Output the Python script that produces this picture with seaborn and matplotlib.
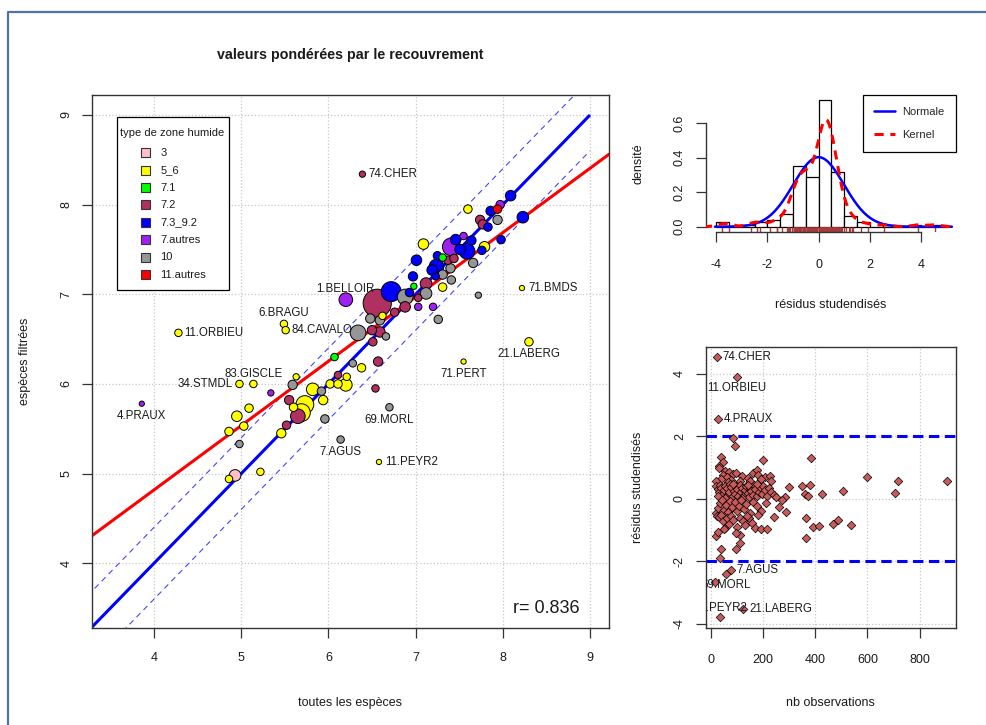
import numpy as np
import pandas as pd
import matplotlib
matplotlib.use("Agg")
import matplotlib.pyplot as plt
import seaborn as sns
from matplotlib.lines import Line2D
from matplotlib.patches import Rectangle

sns.set_theme(style="ticks")
plt.rcParams["font.family"] = ["Liberation Sans", "DejaVu Sans"]
plt.rcParams["axes.unicode_minus"] = False

# ---------------- data: main scatter ----------------
toutes = [6.39, 8.09, 7.60, 7.97, 7.94, 7.86, 7.74, 7.77, 7.94, 7.83, 8.23, 7.98, 7.09, 7.41, 7.46,
          7.55, 7.64, 7.59, 7.51, 7.79, 7.76, 7.01, 7.25, 7.31, 7.37, 7.44, 7.24, 7.19, 7.40, 7.66,
          6.97, 7.23, 7.31, 7.41, 7.31, 7.72, 7.26, 7.03, 7.20, 8.22, 8.30, 7.55, 6.57, 6.54, 6.56,
          6.72, 6.88, 7.12, 6.88, 7.12, 6.20, 6.48, 6.59, 6.62, 6.34, 6.50, 6.59, 6.07, 6.38, 6.28,
          4.28, 5.49, 5.51, 5.14, 4.98, 3.86, 5.63, 5.34, 5.59, 5.55, 5.82, 5.09, 4.95, 5.03, 4.86,
          4.98, 5.46, 5.52, 5.73, 5.69, 5.65, 5.60, 5.96, 5.94, 5.92, 6.02, 6.11, 6.20, 6.11, 6.21,
          4.93, 4.86, 5.22, 6.14, 6.58, 6.70, 6.66, 6.51, 6.76, 6.93, 7.03, 6.98]
filtrees = [8.34, 8.10, 7.95, 8.00, 7.95, 7.93, 7.83, 7.78, 7.83, 7.75, 7.86, 7.61, 7.56, 7.53, 7.61,
            7.65, 7.60, 7.48, 7.50, 7.53, 7.49, 7.38, 7.43, 7.41, 7.38, 7.40, 7.31, 7.27, 7.29, 7.35,
            7.20, 7.20, 7.22, 7.16, 7.08, 6.99, 6.72, 6.86, 6.86, 7.07, 6.47, 6.25, 6.25, 5.95, 6.90,
            7.03, 6.97, 7.12, 6.86, 7.01, 6.94, 6.73, 6.71, 6.76, 6.57, 6.60, 6.58, 6.30, 6.18, 6.23,
            6.57, 6.67, 6.60, 6.00, 6.00, 5.78, 6.08, 5.90, 5.99, 5.82, 5.94, 5.73, 5.64, 5.53, 5.47,
            5.33, 5.45, 5.54, 5.77, 5.68, 5.64, 5.74, 5.61, 5.82, 5.92, 6.00, 6.00, 5.99, 6.10, 6.08,
            4.98, 4.94, 5.02, 5.38, 5.13, 5.74, 6.53, 6.47, 6.80, 7.02, 6.96, 7.09]
poids = [1.0, 2.8, 1.8, 1.8, 1.8, 2.2, 2.2, 2.2, 2.2, 1.8, 3.4, 1.8, 2.8, 8.0, 2.8,
         1.4, 2.2, 6.2, 2.8, 2.8, 1.8, 2.8, 1.8, 1.4, 1.8, 1.8, 5.4, 2.8, 2.2, 2.2,
         2.2, 1.4, 2.2, 1.8, 1.8, 1.0, 1.8, 1.4, 1.4, 0.7, 1.8, 0.7, 2.2, 1.4, 20.0,
         10.0, 6.2, 3.4, 2.8, 3.4, 4.7, 2.2, 2.2, 1.4, 6.2, 2.2, 2.8, 1.4, 1.8, 1.4,
         1.4, 1.4, 1.4, 1.4, 1.4, 0.7, 1.0, 1.0, 2.2, 2.2, 4.0, 1.8, 2.8, 1.8, 1.8,
         1.4, 2.2, 1.8, 8.0, 8.0, 5.4, 1.8, 1.8, 2.2, 1.8, 1.8, 1.8, 4.0, 1.4, 1.4,
         3.4, 1.4, 1.4, 1.4, 0.7, 1.4, 1.4, 1.8, 1.8, 1.8, 1.4, 1.0]
zone = ["7.2", "7.3_9.2", "5_6", "7.autres", "11.autres", "7.3_9.2", "7.2", "7.2", "10", "7.3_9.2",
        "7.3_9.2", "7.3_9.2", "5_6", "7.autres", "7.3_9.2", "7.autres", "7.3_9.2", "7.3_9.2", "7.3_9.2", "5_6",
        "7.3_9.2", "7.3_9.2", "7.3_9.2", "7.1", "7.2", "7.2", "7.3_9.2", "7.3_9.2", "10", "10",
        "7.3_9.2", "7.3_9.2", "10", "10", "5_6", "10", "10", "7.autres", "7.autres", "5_6",
        "5_6", "5_6", "7.2", "7.2", "7.2", "7.3_9.2", "10", "7.2", "7.2", "10",
        "7.autres", "10", "10", "5_6", "10", "7.2", "7.2", "7.1", "5_6", "10",
        "5_6", "5_6", "5_6", "5_6", "5_6", "7.autres", "5_6", "7.autres", "10", "7.2",
        "5_6", "5_6", "5_6", "5_6", "5_6", "10", "5_6", "7.2", "5_6", "5_6",
        "7.2", "5_6", "10", "5_6", "10", "5_6", "5_6", "5_6", "7.2", "5_6",
        "3", "5_6", "5_6", "10", "5_6", "10", "10", "7.2", "7.2", "7.3_9.2", "7.2", "7.1"]
noms = {0: "74.CHER", 39: "71.BMDS", 40: "21.LABERG", 41: "71.PERT", 50: "1.BELLOIR",
        60: "11.ORBIEU", 61: "6.BRAGU", 62: "84.CAVALO", 63: "83.GISCLE", 64: "34.STMDL",
        65: "4.PRAUX", 93: "7.AGUS", 94: "11.PEYR2", 95: "69.MORL"}
pos_noms = {"74.CHER": "r", "71.BMDS": "r", "21.LABERG": "d", "71.PERT": "d", "1.BELLOIR": "u",
            "11.ORBIEU": "r", "6.BRAGU": "u", "84.CAVALO": "r", "83.GISCLE": "u", "34.STMDL": "l",
            "4.PRAUX": "d", "7.AGUS": "d", "11.PEYR2": "r", "69.MORL": "d"}

categories = ["3", "5_6", "7.1", "7.2", "7.3_9.2", "7.autres", "10", "11.autres"]
couleurs = ["#FFC0CB", "#FFFF00", "#00FF00", "#B03060", "#0000FF", "#A020F0", "#969696", "#FF0000"]

bande = 0.4
etendue_1_1 = [3.0, 9.0]
reg_ordonnee = 1.948
reg_pente = 0.7175
r_valeur = 0.836

# ---------------- data: residuals ----------------
nb_obs = [22, 100, 26, 83, 92,
          37, 47, 199, 382, 32,
          30, 55, 70, 85, 45, 60, 95, 120, 160, 175, 180, 205, 225, 40, 75, 110, 140, 190, 20, 65,
          150, 230, 599, 718, 904,
          18, 25, 30, 35, 40, 45, 50, 55, 60, 62, 68, 72, 78, 82, 88, 92, 96, 100, 105, 110,
          115, 120, 125, 130, 135, 140, 145, 150, 155, 160, 165, 170, 175, 182, 188, 195, 200, 208,
          215, 222, 230, 240, 250, 28, 52, 85, 118, 142, 178, 300, 350, 360, 372, 378, 426, 506,
          704, 282,
          20, 28, 35, 42, 50, 58, 65, 72, 80, 90, 98, 108, 115, 125, 135, 148, 160, 175, 190, 210,
          272, 262, 287,
          22, 30, 38, 45, 52, 48, 60, 68, 75, 112, 122, 130, 146, 156, 169, 192, 214, 240, 100, 85,
          364, 392, 415, 467, 487, 536, 138, 180,
          19, 112, 112, 364, 28, 95,
          95, 38, 35,
          76, 56, 15,
          124, 35]
residus = [4.53, 3.88, 2.55, 1.93, 1.67,
           1.33, 1.17, 1.24, 1.30, 1.05,
           0.97, 0.88, 0.85, 0.78, 0.75, 0.70, 0.83, 0.72, 0.82, 0.92, 0.75, 0.70, 0.72, 0.62, 0.60,
           0.55, 0.65, 0.62, 0.55, 0.52, 0.58, 0.55, 0.68, 0.58, 0.58,
           0.40, 0.30, 0.22, 0.45, 0.35, 0.15, 0.28, 0.42, 0.10, 0.33, 0.20, 0.47, 0.38, 0.05, 0.25,
           0.15, 0.40, 0.30, 0.08, 0.45, 0.22, 0.35, 0.12, 0.28, 0.40, 0.18, 0.05, 0.33, 0.25, 0.12,
           0.45, 0.30, 0.08, 0.20, 0.38, 0.15, 0.42, 0.28, 0.10, 0.35, 0.22, 0.12, 0.05, 0.08, 0.02,
           0.48, 0.02, 0.45, 0.48, 0.38, 0.40, 0.15, 0.10, 0.45, 0.14, 0.24, 0.17, 0.05,
           -0.45, -0.30, -0.15, -0.05, -0.35, -0.20, -0.42, -0.08, -0.28, -0.12, -0.38, -0.22, -0.05,
           -0.32, -0.18, -0.45, -0.10, -0.25, -0.40, -0.15, -0.05, -0.28, -0.44,
           -0.55, -0.60, -0.52, -0.70, -0.95, -0.98, -0.62, -0.80, -0.55, -0.62, -0.72, -0.85, -0.63,
           -0.77, -0.94, -0.98, -0.96, -0.58, -0.90, -0.68, -0.61, -0.90, -0.88, -0.81, -0.68, -0.84,
           -0.55, -0.52,
           -1.19, -1.17, -1.43, -1.25, -1.05, -1.10,
           -1.61, -1.61, -1.89,
           -2.29, -2.40, -2.66,
           -3.52, -3.79]
noms_resid = {0: ("74.CHER", "r"), 1: ("11.ORBIEU", "d"), 2: ("4.PRAUX", "r"),
              -5: ("7.AGUS", "r"), -4: ("69.MORL", "d"), -2: ("21.LABERG", "r"), -1: ("11.PEYR2", "u")}
seuils = [-2, 2]

# ---------------- figure ----------------
W, H = 987, 725
fig = plt.figure(figsize=(W / 100, H / 100), dpi=100)

def box(l, t, r, b):
    return [l / W, 1 - b / H, (r - l) / W, (b - t) / H]

txt_col = "#1a1a1a"
spine_col = "#333333"

# outer frame
fig.add_artist(Line2D([8 / W, 8 / W, 1.0], [0.0, 1 - 12 / H, 1 - 12 / H],
                      transform=fig.transFigure, color="#4F72A8", lw=1.6))

# ---- main axes ----
ax = fig.add_axes(box(92, 95, 609, 628))
df = pd.DataFrame({"toutes": toutes, "filtrees": filtrees, "poids": poids, "zone": zone})
df = df.sort_values("poids", ascending=False, kind="stable")
k = (0.72 * 6.3) ** 2

xl = np.array(etendue_1_1)
ax.plot(xl, xl, color="#0000FF", lw=2.2, zorder=2, solid_capstyle="butt")
ax.plot(xl, xl + bande, color="#4444FF", lw=0.8, ls=(0, (5, 4)), zorder=2)
ax.plot(xl, xl - bande, color="#4444FF", lw=0.8, ls=(0, (5, 4)), zorder=2)
ax.axline((0, reg_ordonnee), slope=reg_pente, color="#FF0000", lw=2.2, zorder=2)

sns.scatterplot(data=df, x="toutes", y="filtrees", hue="zone", hue_order=categories,
                palette=dict(zip(categories, couleurs)), size="poids",
                sizes=(min(poids) * k, max(poids) * k), size_norm=(min(poids), max(poids)),
                edgecolor="black", linewidth=0.7, alpha=1, legend=False, ax=ax, zorder=3)

for i, nm in noms.items():
    p = pos_noms[nm]
    off, ha = {"r": ((4.5, 0), "left"), "l": ((-4.5, 0), "right"),
               "d": ((0, -9), "center"), "u": ((0, 7.5), "center")}[p]
    ax.annotate(nm, (toutes[i], filtrees[i]), xytext=off, textcoords="offset points",
                ha=ha, va="center", fontsize=8.3, color=txt_col, zorder=4)

ax.text(8.50, 3.49, f"r= {r_valeur}", ha="center", va="center", fontsize=13, color=txt_col)

ax.set_xlim(3.289, 9.218)
ax.set_ylim(3.278, 9.223)
ax.set_xticks([4, 5, 6, 7, 8, 9])
ax.set_yticks([4, 5, 6, 7, 8, 9])
ax.grid(True, ls=":", color="#C8C8C8", lw=0.9)
ax.set_axisbelow(True)
for s in ax.spines.values():
    s.set_color(spine_col)
    s.set_linewidth(1.0)
ax.tick_params(axis="both", direction="out", length=7.2, width=0.9, color=spine_col,
               labelsize=9, labelcolor=txt_col)
ax.tick_params(axis="x", pad=10)
ax.tick_params(axis="y", pad=7, labelrotation=90)
for lab in ax.get_yticklabels():
    lab.set_va("center")
ax.set_xlabel("toutes les espèces", fontsize=9, color=txt_col)
ax.set_ylabel("espèces filtrées", fontsize=9, color=txt_col)
ax.xaxis.label.set_va("center")
ax.yaxis.label.set_va("center")
ax.xaxis.set_label_coords(0.5, (628 - 703) / 533)
ax.yaxis.set_label_coords((25 - 92) / 517, 0.5)

# manual legend
def axf(px, py):
    return ((px - 92) / 517, (628 - py) / 533)

lx0, ly0 = axf(117, 290)
lx1, ly1 = axf(229, 117)
ax.add_patch(Rectangle((lx0, ly0), lx1 - lx0, ly1 - ly0, transform=ax.transAxes,
                       facecolor="white", edgecolor="black", lw=0.9, zorder=5))
tx, ty = axf(172, 132.5)
ax.text(tx, ty, "type de zone humide", transform=ax.transAxes, ha="center", va="center",
        fontsize=8, color=txt_col, zorder=6)
for j, (cat, col) in enumerate(zip(categories, couleurs)):
    py = 152.7 + 17.43 * j
    sx, sy = axf(141.2, py + 4.5)
    ax.add_patch(Rectangle((sx, sy), 9 / 517, 9 / 533, transform=ax.transAxes,
                           facecolor=col, edgecolor="#333333", lw=0.8, zorder=6))
    lx, lyy = axf(160.5, py)
    ax.text(lx, lyy, cat, transform=ax.transAxes, ha="left", va="center",
            fontsize=8, color=txt_col, zorder=6)

fig.text(350 / W, 1 - 55 / H, "valeurs pondérées par le recouvrement", ha="center",
         va="center", fontsize=10.3, fontweight="bold", color=txt_col)

# ---- histogram axes ----
axh = fig.add_axes(box(705.7, 95, 956, 232.3))
res = np.array(residus)
sns.histplot(x=res, stat="density", bins=np.arange(-4.0, 5.5, 0.5), color="white",
             edgecolor="black", linewidth=0.9, alpha=1, ax=axh, zorder=1)
sns.rugplot(x=res, height=0.042, color="#A83A3A", lw=0.8, ax=axh, zorder=2)
m, sd = res.mean(), res.std(ddof=1)
xs = np.linspace(-4.05, 5.2, 400)
axh.plot(xs, np.exp(-0.5 * ((xs - m) / sd) ** 2) / (sd * np.sqrt(2 * np.pi)),
         color="#0000FF", lw=1.8, zorder=3)
q75, q25 = np.percentile(res, [75, 25])
bw = 0.9 * min(sd, (q75 - q25) / 1.34) * len(res) ** -0.2
sns.kdeplot(x=res, bw_method=bw / sd, cut=3, gridsize=512, color="#FF0000", lw=2.2,
            ls=(0, (3, 2.2)), ax=axh, zorder=4)
axh.set_xlim(-4.41, 5.36)
axh.set_ylim(-0.0325, 0.764)
axh.set_xticks([-4, -2, 0, 2, 4])
axh.set_yticks([0.0, 0.2, 0.4, 0.6])
axh.set_yticklabels(["0.0", "0.2", "0.4", "0.6"])
axh.spines["top"].set_visible(False)
axh.spines["right"].set_visible(False)
axh.spines["left"].set_bounds(0, 0.6)
axh.spines["bottom"].set_bounds(-4, 4)
for s in ("left", "bottom"):
    axh.spines[s].set_color(spine_col)
    axh.spines[s].set_linewidth(1.0)
axh.tick_params(axis="both", direction="out", length=7.2, width=0.9, color=spine_col,
                labelsize=9, labelcolor=txt_col)
axh.tick_params(axis="x", pad=12)
axh.tick_params(axis="y", pad=7, labelrotation=90)
for lab in axh.get_yticklabels():
    lab.set_va("center")
axh.set_xlabel("résidus studendisés", fontsize=9, color=txt_col)
axh.set_ylabel("densité", fontsize=9, color=txt_col)
axh.xaxis.label.set_va("center")
axh.yaxis.label.set_va("center")
axh.xaxis.set_label_coords(0.5, (232.3 - 305) / 137.3)
axh.yaxis.set_label_coords((638 - 705.7) / 250.3, 0.5)
handles = [Line2D([], [], color="#0000FF", lw=1.8),
           Line2D([], [], color="#FF0000", lw=2.2, ls=(0, (3, 2.2)))]
leg = axh.legend(handles, ["Normale", "Kernel"], loc="upper right", bbox_to_anchor=(1, 1),
                 borderaxespad=0, fancybox=False, edgecolor="black", framealpha=1,
                 fontsize=8, handlelength=1.9, handletextpad=0.6, borderpad=1.05,
                 labelspacing=1.2)
leg.get_frame().set_linewidth(0.9)

# ---- residual axes ----
axr = fig.add_axes(box(705.7, 346.7, 956, 627.5))
axr.axhline(seuils[0], color="#0000FF", lw=2.2, ls=(0, (3.4, 1.8)), zorder=2)
axr.axhline(seuils[1], color="#0000FF", lw=2.2, ls=(0, (3.4, 1.8)), zorder=2)
sns.scatterplot(x=nb_obs, y=residus, marker="D", s=19, color="#C85A5A", edgecolor="black",
                linewidth=0.5, ax=axr, zorder=3)
for i, (nm, p) in noms_resid.items():
    off, ha = {"r": ((4, 0), "left"), "d": ((0, -8), "center"),
               "u": ((0, 6.5), "center")}[p]
    t = axr.annotate(nm, (nb_obs[i], residus[i]), xytext=off, textcoords="offset points",
                     ha=ha, va="center", fontsize=8.3, color=txt_col, zorder=4)
    t.set_clip_on(True)
    t.set_clip_path(axr.patch)
axr.set_xlim(-20.6, 939.6)
axr.set_ylim(-4.12, 4.86)
axr.set_xticks([0, 200, 400, 600, 800])
axr.set_yticks([-4, -2, 0, 2, 4])
axr.grid(True, ls=":", color="#C8C8C8", lw=0.9)
axr.set_axisbelow(True)
for s in axr.spines.values():
    s.set_color(spine_col)
    s.set_linewidth(1.0)
axr.tick_params(axis="both", direction="out", length=7.2, width=0.9, color=spine_col,
                labelsize=9, labelcolor=txt_col)
axr.tick_params(axis="x", pad=12)
axr.tick_params(axis="y", pad=7, labelrotation=90)
for lab in axr.get_yticklabels():
    lab.set_va("center")
axr.set_xlabel("nb observations", fontsize=9, color=txt_col)
axr.set_ylabel("résidus studendisés", fontsize=9, color=txt_col)
axr.xaxis.label.set_va("center")
axr.yaxis.label.set_va("center")
axr.xaxis.set_label_coords(0.5, (627.5 - 703) / 280.8)
axr.yaxis.set_label_coords((638 - 705.7) / 250.3, 0.5)

fig.savefig("out.png", dpi=100, facecolor="white")
